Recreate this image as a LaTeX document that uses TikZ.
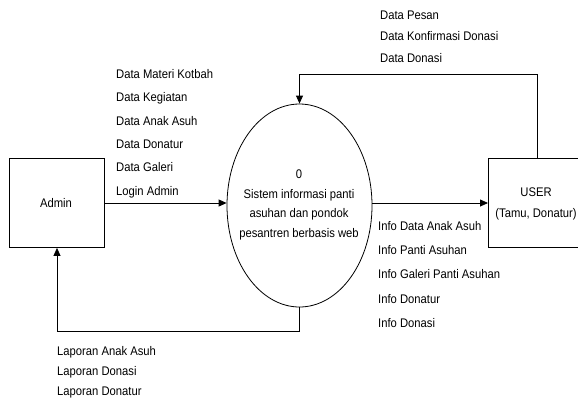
\documentclass[tikz,border=0pt]{standalone}
\usepackage{fontspec}
\setmainfont{Liberation Sans}[FakeStretch=0.9]
\usetikzlibrary{arrows.meta,shapes.geometric}
\begin{document}
\begin{tikzpicture}[x=1pt,y=-1pt,
  line/.style={line width=0.8pt,draw=black},
  flow/.style={line,-{Triangle[length=8pt,width=7pt]}},
  lbl/.style={font=\fontsize{12.5}{14}\selectfont,inner sep=0pt,align=left},
  entity/.style={line,rectangle,minimum width=95pt,minimum height=89pt,inner sep=0pt}]
\useasboundingbox (0,0) rectangle (578,405);
% entities
\node[entity] (admin) at (56.5,203) {};
\node[lbl,align=center] (admintxt) at (56,203) {Admin};
\draw[line] (580,158) -- (488,158) -- (488,247) -- (580,247);
\coordinate (userW) at (488,203);
\coordinate (userT) at (537,158);
\node[lbl,align=center,font=\fontsize{12.5}{21}\selectfont] (usertxt) at (536,203.5) {USER\\(Tamu, Donatur)};
% process
\node[line,ellipse,minimum width=145pt,minimum height=203pt,inner sep=0pt] (proc) at (299.5,205.5) {};
\node[lbl,align=center,font=\fontsize{12.5}{19.5}\selectfont] (proctxt) at (299,205) {0\\Sistem informasi panti\\asuhan dan pondok\\pesantren berbasis web};
% flows
\draw[flow] (admin.east) -- (admin.east -| proc.west);
\draw[flow] (proc.east |- userW) -- (userW);
\coordinate (tr) at (537,74);
\coordinate (tl) at (299.5,74);
\draw[flow] (userT) -- (tr) -- (tl) -- (proc.north);
\coordinate (br) at (299.5,331);
\coordinate (bl) at (57,331);
\draw[flow] (proc.south) -- (br) -- (bl) -- (admin.south -| bl);
% labels
\node[lbl,anchor=west,font=\fontsize{12.5}{23.4}\selectfont] (l1) at (116,133.5) {Data Materi Kotbah\\Data Kegiatan\\Data Anak Asuh\\Data Donatur\\Data Galeri\\Login Admin};
\node[lbl,anchor=west,font=\fontsize{12.5}{21.5}\selectfont] (l2) at (380,36.5) {Data Pesan\\Data Konfirmasi Donasi\\Data Donasi};
\node[lbl,anchor=west,font=\fontsize{12.5}{24.2}\selectfont] (l3) at (378,274.5) {Info Data Anak Asuh\\Info Panti Asuhan\\Info Galeri Panti Asuhan\\Info Donatur\\Info Donasi};
\node[lbl,anchor=west,font=\fontsize{12.5}{20}\selectfont] (l4) at (57,372) {Laporan Anak Asuh\\Laporan Donasi\\Laporan Donatur};
\end{tikzpicture}
\end{document}
